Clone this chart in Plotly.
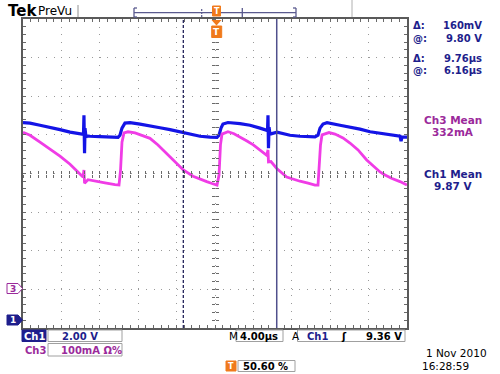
import plotly.graph_objects as go

# ---------------- data ----------------
# Ch1 (blue) voltage trace, time in microseconds, volts
ch1_t = [-20.0, -19.27, -18.23, -17.19, -16.15, -15.10, -14.06, -13.75, -13.70, -13.65,
         -13.59, -13.54, -13.44, -13.33, -13.02, -11.98, -10.94, -10.10, -9.90, -9.69,
         -9.38, -8.85, -7.81, -6.77, -5.73, -4.69, -3.65, -2.60, -1.56, -0.52,
         0.21, 0.42, 0.625, 0.83, 1.35, 2.60, 3.65, 4.69, 5.31, 5.47,
         5.52, 5.57, 5.63, 5.73, 6.46, 7.81, 8.85, 10.42, 10.73, 10.94,
         11.25, 11.67, 13.02, 14.06, 15.10, 16.15, 17.19, 18.23, 19.27, 19.38,
         19.48, 20.0]
ch1_v = [10.23, 10.21, 10.10, 10.00, 9.87, 9.74, 9.66, 9.61, 9.63, 10.62,
         8.65, 9.95, 9.48, 9.55, 9.53, 9.51, 9.48, 9.47, 9.58, 9.95,
         10.21, 10.23, 10.16, 10.08, 9.97, 9.87, 9.76, 9.64, 9.53, 9.48,
         9.47, 9.58, 9.95, 10.16, 10.24, 10.18, 10.10, 9.95, 9.84, 9.82,
         10.62, 8.91, 10.00, 9.64, 9.74, 9.58, 9.53, 9.50, 9.58, 9.95,
         10.16, 10.23, 10.10, 10.02, 9.90, 9.76, 9.69, 9.61, 9.53, 9.27,
         9.48, 9.48]

# Ch3 (magenta) current trace, time in microseconds, milliamps
ch3_t = [-20.0, -19.27, -18.23, -17.19, -16.15, -15.10, -14.27, -13.75, -13.65, -13.59,
         -13.23, -12.50, -11.46, -10.42, -10.00, -9.84, -9.69, -9.48, -9.06, -8.33,
         -7.60, -6.77, -5.94, -5.03, -4.17, -3.30, -2.29, -1.56, -0.86, -0.31,
         0.21, 0.42, 0.57, 0.73, 1.35, 1.98, 2.60, 3.33, 3.99, 4.69,
         5.39, 5.52, 5.57, 5.83, 6.43, 7.47, 8.125, 8.85, 9.69, 10.42,
         10.73, 10.83, 10.99, 11.15, 11.64, 11.875, 12.50, 13.33, 14.06, 14.90,
         15.80, 16.46, 17.19, 17.71, 18.44, 19.27, 20.0]
ch3_ma = [407, 399, 381, 363, 345, 324, 304, 291, 309, 275,
          284, 280, 276, 271, 270, 309, 381, 405, 408, 405,
          399, 391, 374, 352, 330, 309, 293, 285, 279, 274,
          270, 296, 374, 402, 408, 403, 395, 384, 374, 361,
          347, 361, 330, 331, 313, 291, 285, 280, 275, 270,
          270, 309, 374, 400, 405, 406, 402, 392, 379, 361,
          335, 319, 304, 296, 287, 279, 270]

cursor_times = [-3.30, 6.43]          # dashed, solid (microseconds)
ch1_range = [-0.4, 15.6]              # 2 V/div, 8 divisions
ch3_range = [-100, 700]               # 100 mA/div, 8 divisions
time_range = [-20, 20]                # 4 us/div, 10 divisions

readouts = [("\u0394:", "160mV"), ("@:", "9.80 V"), ("\u0394:", "9.76\u00b5s"), ("@:", "6.16\u00b5s")]
ch3_mean = ["Ch3 Mean", "332mA"]
ch1_mean = ["Ch1 Mean", "9.87 V"]

# ---------------- colours / geometry ----------------
BLUE = "#1414e6"
MAG = "#f03ce6"
NAVY = "#1e1e8c"
PURP = "#9b2a9b"
ORANGE = "#f07a1c"
GRID = "#9a9a9a"
FRAME = "#5a5a5a"

L, R, T, B = 23, 407, 19, 328
W, H = R - L, B - T


def px(x):
    return (x - L) / W


def py(y):
    return (B - y) / H


fig = go.Figure()
fig.add_trace(go.Scatter(x=ch1_t, y=ch1_v, mode="lines", line=dict(color=BLUE, width=3.2),
                         xaxis="x", yaxis="y", hoverinfo="skip", showlegend=False))
fig.add_trace(go.Scatter(x=ch3_t, y=ch3_ma, mode="lines", line=dict(color=MAG, width=2.8),
                         xaxis="x", yaxis="y2", hoverinfo="skip", showlegend=False))
# dummy traces for the centre-cross tick axes
for xa, ya in [("x2", "y"), ("x3", "y"), ("x", "y3"), ("x", "y4")]:
    fig.add_trace(go.Scatter(x=[None], y=[None], xaxis=xa, yaxis=ya, showlegend=False,
                             hoverinfo="skip"))

griddash = "1px,6.68px"
tick_common = dict(showticklabels=False, tickcolor="#6a6a6a", tickwidth=1, ticklen=3)

fig.update_layout(
    width=500, height=374,
    margin=dict(l=L, r=500 - R, t=T, b=374 - B),
    paper_bgcolor="white", plot_bgcolor="white",
    xaxis=dict(range=time_range, tick0=-20, dtick=4, showgrid=True, gridcolor=GRID,
               gridwidth=1.3, griddash=griddash, zeroline=False, showline=True,
               linecolor=FRAME, linewidth=2, mirror="ticks", ticks="inside",
               minor=dict(dtick=0.8, tick0=-20, ticks="inside", ticklen=3,
                          tickcolor="#6a6a6a", showgrid=False), **tick_common),
    yaxis=dict(range=ch1_range, tick0=-0.4, dtick=2, showgrid=True, gridcolor=GRID,
               gridwidth=1.3, griddash=griddash, zeroline=False, showline=True,
               linecolor=FRAME, linewidth=2, mirror="ticks", ticks="inside",
               minor=dict(dtick=0.4, tick0=-0.4, ticks="inside", ticklen=3,
                          tickcolor="#6a6a6a", showgrid=False), **tick_common),
    yaxis2=dict(range=ch3_range, overlaying="y", visible=False),
    xaxis2=dict(range=time_range, overlaying="x", anchor="free", position=0.5,
                showgrid=False, zeroline=False, showline=False, ticks="outside",
                tick0=-20, dtick=0.8, **tick_common),
    xaxis3=dict(range=time_range, overlaying="x", anchor="free", position=0.5,
                showgrid=False, zeroline=False, showline=False, ticks="inside",
                tick0=-20, dtick=0.8, **tick_common),
    yaxis3=dict(range=ch1_range, overlaying="y", anchor="free", position=0.5,
                showgrid=False, zeroline=False, showline=False, ticks="outside",
                tick0=-0.4, dtick=0.4, **tick_common),
    yaxis4=dict(range=ch1_range, overlaying="y", anchor="free", position=0.5,
                showgrid=False, zeroline=False, showline=False, ticks="inside",
                tick0=-0.4, dtick=0.4, **tick_common),
)

shapes = []
ann = []

# cursors
shapes.append(dict(type="line", xref="x", yref="paper", x0=cursor_times[0], x1=cursor_times[0],
                   y0=0, y1=1, line=dict(color="#23235a", width=1.3, dash="3px,2px")))
shapes.append(dict(type="line", xref="x", yref="paper", x0=cursor_times[1], x1=cursor_times[1],
                   y0=0, y1=1, line=dict(color="#50508c", width=1.5)))


def rect(x0, y0, x1, y1, line="#a0a0a0", fill="rgba(0,0,0,0)", lw=1):
    shapes.append(dict(type="rect", xref="paper", yref="paper", x0=px(x0), x1=px(x1),
                       y0=py(y1), y1=py(y0), line=dict(color=line, width=lw), fillcolor=fill))


def line(x0, y0, x1, y1, color, w=1, dash=None):
    d = dict(color=color, width=w)
    if dash:
        d["dash"] = dash
    shapes.append(dict(type="line", xref="paper", yref="paper", x0=px(x0), x1=px(x1),
                       y0=py(y0), y1=py(y1), line=d))


def text(x, y, s, color="black", size=10, anchor="left", family="DejaVu Sans", bold=True):
    ann.append(dict(xref="paper", yref="paper", x=px(x), y=py(y), text=s, showarrow=False,
                    xanchor=anchor, yanchor="middle",
                    font=dict(family=family, size=size, color=color,
                              weight="bold" if bold else "normal")))


# ---- top bar ----
text(6, 11, "Tek", "black", 15, family="DejaVu Sans")
text(36, 11, "PreVu", "black", 12, family="DejaVu Sans", bold=False)
line(78, 5, 78, 17, "#909090", 1)
line(134, 12.7, 296, 12.7, "#5a5a8e", 1.3)
line(134, 8, 134, 17, "#5a5a8e", 1.3)
line(134, 8, 137, 8, "#5a5a8e", 1.3)
line(134, 17, 137, 17, "#5a5a8e", 1.3)
line(296, 8, 296, 17, "#5a5a8e", 1.3)
line(293, 8, 296, 8, "#5a5a8e", 1.3)
line(293, 17, 296, 17, "#5a5a8e", 1.3)
line(201.7, 9, 201.7, 17, "#5a5a8e", 1.2, "2px,1px")
line(242.3, 8, 242.3, 17, "#5a5a8e", 1.3)
line(352, 0, 352, 17, "#b0b0b0", 1)
# record trigger marker
rect(212.5, 6, 220.5, 16, line=ORANGE, fill=ORANGE)
text(216.5, 11.5, "T", "white", 8, anchor="center")
# trigger position marker under top border
shapes.append(dict(type="path", xref="paper", yref="paper",
                   path=f"M {px(211.5)} {py(20)} L {px(221.5)} {py(20)} L {px(216.5)} {py(25.5)} Z",
                   fillcolor=ORANGE, line=dict(color=ORANGE, width=0)))
rect(211.7, 26, 221.7, 37.5, line=ORANGE, fill=ORANGE)
text(216.7, 32, "T", "white", 9, anchor="center")

# ---- channel ground markers ----
shapes.append(dict(type="path", xref="paper", yref="paper",
                   path=(f"M {px(7)} {py(283.5)} L {px(18)} {py(283.5)} L {px(22.5)} {py(288.5)} "
                         f"L {px(18)} {py(293.5)} L {px(7)} {py(293.5)} Z"),
                   fillcolor="white", line=dict(color=PURP, width=1)))
text(12.5, 288.7, "3", PURP, 9, anchor="center")
shapes.append(dict(type="path", xref="paper", yref="paper",
                   path=(f"M {px(7)} {py(315)} L {px(18)} {py(315)} L {px(22.5)} {py(320)} "
                         f"L {px(18)} {py(325)} L {px(7)} {py(325)} Z"),
                   fillcolor=NAVY, line=dict(color=NAVY, width=1)))
text(12.5, 320.2, "1", "white", 9, anchor="center")

# ---- right readouts ----
ys = [25.7, 38.3, 58.3, 70.5]
for (lab, val), y in zip(readouts, ys):
    text(411, y, lab, NAVY, 10)
    text(484, y, val, NAVY, 10, anchor="right")
text(453, 120, ch3_mean[0], PURP, 10.5, anchor="center")
text(453, 132, ch3_mean[1], PURP, 10.5, anchor="center")
text(453, 173.5, ch1_mean[0], NAVY, 10.5, anchor="center")
text(453, 186, ch1_mean[1], NAVY, 10.5, anchor="center")

# ---- bottom status ----
rect(22, 330, 46, 341.5, line=NAVY, fill=NAVY)
text(34, 336, "Ch1", "white", 10, anchor="center")
rect(48, 330, 122, 341.5)
text(60, 336, "2.00 V", NAVY, 10)
text(23, 350, "Ch3", PURP, 10)
rect(48, 343.5, 122, 356)
text(59, 350, "100mA \u03a9%", PURP, 10)

text(226.5, 336, "M", "black", 10.5, bold=False)
rect(236, 330, 283, 341.5)
text(238, 336, "4.00\u00b5s", "black", 10)
text(289.5, 336, "A", "black", 10.5, bold=False)
rect(297.5, 330, 405, 341.5)
text(305, 336, "Ch1", NAVY, 10)
text(339, 336, "\u0283", "black", 10)
text(404, 336, "9.36 V", "black", 10, anchor="right")

rect(226, 361, 236, 371, line=ORANGE, fill=ORANGE)
text(231, 366, "T", "white", 8, anchor="center")
rect(238, 360.5, 295, 371.5)
text(241, 366, "50.60 %", "black", 10)

text(424, 353, "1 Nov 2010", "black", 10.5, bold=False)
text(420, 365.5, "16:28:59", "black", 10.5, bold=False)

fig.update_layout(shapes=shapes, annotations=ann)
fig.write_html("out.html", config={"displayModeBar": False},
               post_script="document.body.style.margin='0';document.body.style.overflow='hidden';")
